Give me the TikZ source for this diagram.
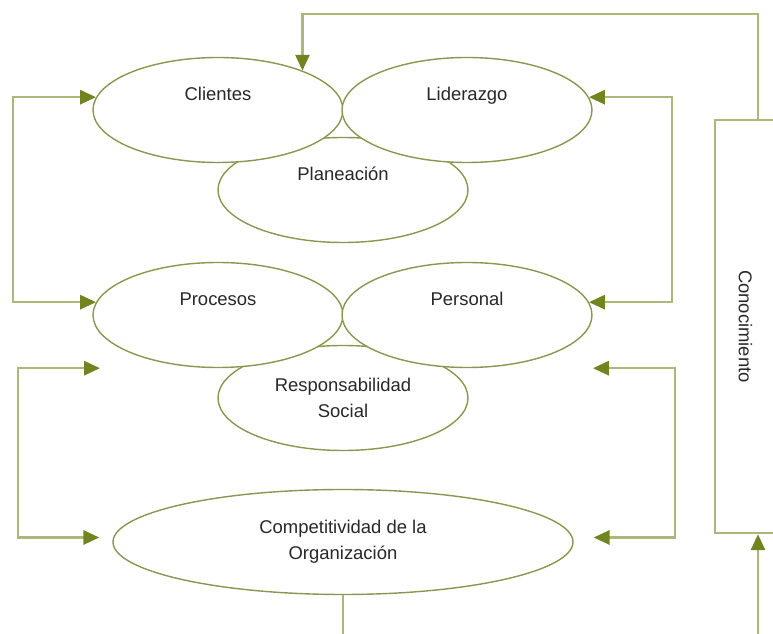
\documentclass[tikz,border=0pt]{standalone}
\usepackage{fontspec}
\setmainfont{Liberation Sans}
\usepackage{tikz}
\usetikzlibrary{shapes.geometric, arrows.meta}
\definecolor{ovalcol}{RGB}{140,150,80}
\definecolor{linkcol}{RGB}{172,182,125}
\definecolor{tipcol}{RGB}{112,132,32}
\definecolor{textcol}{RGB}{40,40,40}
\tikzstyle{oval} = [ellipse, minimum width=5cm, minimum height=2.1cm, draw=ovalcol, line width=0.8pt, fill=white, text=textcol, align=center, font=\fontsize{10.5}{15}\selectfont]
\tikzstyle{ovaltop} = [oval, text height=8pt, text depth=19pt]
\tikzstyle{ovalwide} = [oval, minimum width=9.2cm]
\tikzstyle{kbox} = [rectangle, minimum width=1.22cm, minimum height=8.26cm, draw=linkcol, line width=1.4pt, text=textcol, font=\fontsize{10.5}{15}\selectfont]
\tikzstyle{link} = [line width=1.4pt, draw=linkcol, >={Triangle[length=9pt,width=8pt,color=tipcol]}]
\tikzstyle{oneway} = [link,->]
\tikzstyle{twoway} = [link,<->]

\begin{document}
\begin{tikzpicture}[node distance=4.98cm]
        \useasboundingbox (-4.36,2.2) rectangle (11.1,-10.48);
        \node (plan) [ovaltop] at (2.5,-1.6) {Planeación};
        \node (cli) [ovaltop, above of=plan, xshift=-2.5cm, node distance=1.6cm] {Clientes};
        \node (lid) [ovaltop, right of=cli] {Liderazgo};
        \node (resp) [oval, below of=plan, node distance=4.16cm] {Responsabilidad\\Social};
        \node (proc) [ovaltop, above of=resp, xshift=-2.5cm, node distance=1.66cm] {Procesos};
        \node (pers) [ovaltop, right of=proc] {Personal};
        \node (comp) [ovalwide, below of=resp, node distance=2.88cm] {Competitividad de la\\Organización};
        \node (know) [kbox] at (10.55,-4.33) {\rotatebox{-90}{Conocimiento}};
        % free ends of the side arrows
        \coordinate (procL) at ([xshift=-2.36cm]proc.south);
        \coordinate (persR) at ([xshift=2.52cm]pers.south);
        \coordinate (compL) at ([shift={(-0.26,0.09)}]comp.west);
        \coordinate (compR) at ([shift={(0.4,0.09)}]comp.east);
        \draw [twoway] (cli.174) -- ++(-1.66,0) |- (proc.174);
        \draw [twoway] (lid.6) -- ++(1.66,0) |- (pers.6);
        \draw [twoway] (procL) -- ++(-1.64,0) |- (compL);
        \draw [twoway] (persR) -- ++(1.64,0) |- (compR);
        \draw [oneway] ([xshift=0.25cm]know.north) -- ++(0,2.1) -| (cli.25);
        \draw [oneway] (comp.south) -- ++(0,-1.1) -| ([xshift=0.25cm]know.south);
\end{tikzpicture}
\end{document}
